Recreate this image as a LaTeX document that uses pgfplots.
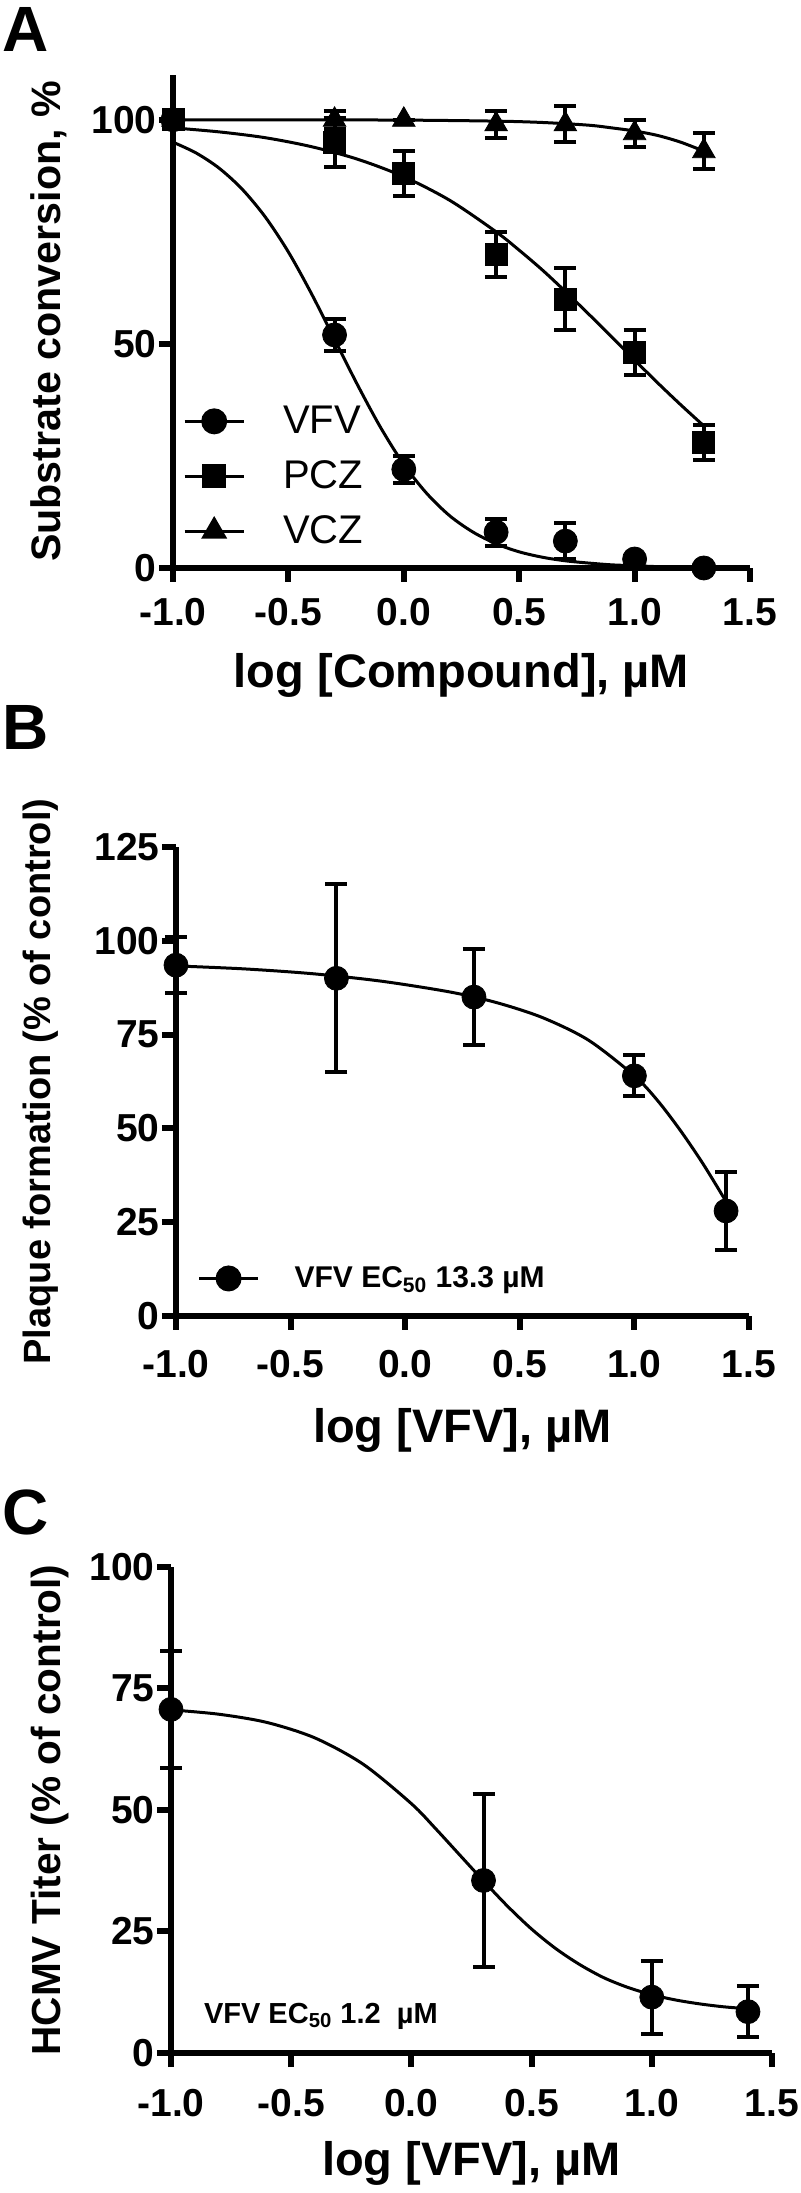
\documentclass[border=0pt]{standalone}
\usepackage{fontspec}
\setmainfont{Liberation Sans}
\usepackage{pgfplots}
\pgfplotsset{compat=1.18}

\pgfplotsset{
  gp/.style={
    scale only axis,
    anchor=south west,
    axis lines*=left,
    axis line style={line width=3pt},
    tick align=outside,
    major tick length=7pt,
    tick style={line width=3pt, black},
    minor tick num=0,
    xmin=-1, xmax=1.5, ymin=0,
    xtick={-1,-0.5,0,0.5,1,1.5},
    xticklabels={-1.0,-0.5,0.0,0.5,1.0,1.5},
    tick label style={font=\bfseries\fontsize{19.5}{23}\selectfont, inner sep=1pt},
    label style={font=\bfseries\fontsize{23.5}{27}\selectfont},
    xlabel style={at={(axis description cs:0.5,0)}, anchor=center},
    clip=false,
  },
  ebar/.style={
    only marks, black,
    error bars/.cd, y dir=both, y explicit,
    error bar style={line width=2pt, black},
    error mark options={rotate=90, line width=2pt, mark size=5.5pt, black},
  },
  fit/.style={black, line width=1.5pt, smooth, no marks, forget plot},
}

\begin{document}
\begin{tikzpicture}
\path[use as bounding box, fill=white] (0,0) rectangle (400pt,1096.5pt);

% ---------------- Panel A ----------------
\node[font=\bfseries\fontsize{32}{36}\selectfont, anchor=center] at (13pt,1081.5pt) {A};
\begin{axis}[gp,
  at={(86.5pt,812.5pt)},
  width=288.5pt, height=246.5pt,
  ymax=110,
  ytick={0,50,100}, yticklabels={0,50,100},
  xticklabel style={yshift=-7pt},
  xlabel={log [Compound], µM},
  xlabel style={yshift=-53.5pt},
  ylabel={Substrate conversion, \%},
  ylabel style={at={(axis description cs:-0.215,0.5)}, anchor=center, font=\bfseries\fontsize{20.6}{24}\selectfont},
  legend style={at={(axis description cs:0.017,0.186)}, anchor=west, draw=none, fill=none,
    font=\fontsize{20}{24}\selectfont, row sep=8pt, inner sep=0pt,
    /tikz/every odd column/.append style={column sep=17pt}},
  legend cell align=left,
  legend image code/.code={%
    \draw[line width=1.5pt, black] (0pt,0pt) -- (29.5pt,0pt);
    \draw[#1, line width=1pt] plot coordinates {(14.75pt,0pt)};},
]
% fitted curves
\addplot[fit] coordinates {(-1.0,95.0) (-0.9,92.6) (-0.8,89.2) (-0.7,84.5) (-0.6,78.3) (-0.5,70.5) (-0.4,61.2) (-0.3,51.0) (-0.2,40.8) (-0.1,31.3) (0.0,23.1) (0.1,16.6) (0.2,11.6) (0.3,8.0) (0.4,5.4) (0.5,3.6) (0.6,2.4) (0.7,1.6) (0.8,1.1) (0.9,0.7) (1.0,0.5) (1.1,0.3) (1.2,0.2) (1.3,0.13)};
\addplot[fit] coordinates {(-1.0,98.2) (-0.8,97.3) (-0.6,96.0) (-0.4,94.0) (-0.2,91.2) (0.0,87.3) (0.2,82.0) (0.4,75.0) (0.5,70.9) (0.6,66.5) (0.7,61.7) (0.8,56.7) (0.9,51.6) (1.0,46.4) (1.1,41.3) (1.2,36.4) (1.3,31.7)};
\addplot[fit] coordinates {(-1.0,100.0) (-0.5,99.98) (0.0,99.93) (0.4,99.7) (0.6,99.4) (0.8,98.8) (0.9,98.2) (1.0,97.5) (1.1,96.5) (1.2,95.0) (1.3,93.0)};
% data
\addplot[mark=*, mark size=6pt, ebar] coordinates {(-1.0,100) +- (0,0) (-0.3,52) +- (0,3.5) (0.0,22) +- (0,3) (0.4,8) +- (0,3) (0.7,6) +- (0,4) (1.0,2) +- (0,0) (1.3,0) +- (0,0)};
\addplot[mark=square*, mark size=5.5pt, ebar] coordinates {(-1.0,100) +- (0,0) (-0.3,95) +- (0,5.5) (0.0,88) +- (0,5) (0.4,70) +- (0,5) (0.7,60) +- (0,7) (1.0,48) +- (0,5) (1.3,28) +- (0,4)};
\addplot[mark=triangle*, mark size=6.5pt, ebar] coordinates {(-1.0,100) +- (0,0) (-0.3,100) +- (0,2) (0.0,100) +- (0,0) (0.4,99) +- (0,3) (0.7,99) +- (0,4) (1.0,97) +- (0,3) (1.3,93) +- (0,4)};
\legend{VFV,PCZ,VCZ}
\end{axis}

% ---------------- Panel B ----------------
\node[font=\bfseries\fontsize{32}{36}\selectfont, anchor=center] at (13pt,732.5pt) {B};
\begin{axis}[gp,
  at={(88pt,438.5pt)},
  width=286.5pt, height=234.5pt,
  ymax=125,
  ytick={0,25,50,75,100,125}, yticklabels={0,25,50,75,100,125},
  xticklabel style={yshift=-9pt},
  xlabel={log [VFV], µM},
  xlabel style={yshift=-57pt},
  ylabel={Plaque formation (\% of control)},
  ylabel style={at={(axis description cs:-0.237,0.5)}, anchor=center, font=\bfseries\fontsize{19}{23}\selectfont},
  legend style={at={(axis description cs:0.037,0.08)}, anchor=west, draw=none, fill=none,
    font=\bfseries\fontsize{15}{18}\selectfont, inner sep=0pt,
    /tikz/every odd column/.append style={column sep=15.5pt}},
  legend image code/.code={%
    \draw[line width=1.5pt, black] (0pt,0pt) -- (29.5pt,0pt);
    \draw[#1, line width=1pt] plot coordinates {(14.75pt,0pt)};},
]
\addplot[fit] coordinates {(-1.0,93.3) (-0.7,92.5) (-0.4,91.2) (-0.1,89.2) (0.2,86.3) (0.4,83.5) (0.6,79.5) (0.8,73.5) (1.0,64.0) (1.1,57.5) (1.2,49.5) (1.3,40.5) (1.4,30.5)};
\addplot[mark=*, mark size=6pt, ebar] coordinates {(-1.0,93.5) +- (0,7.4) (-0.3,90) +- (0,25) (0.3,85) +- (0,12.7) (1.0,64) +- (0,5.5) (1.4,28) +- (0,10.5)};
\legend{VFV EC\textsubscript{50} 13.3 µM}
\end{axis}

% ---------------- Panel C ----------------
\node[font=\bfseries\fontsize{32}{36}\selectfont, anchor=center] at (13pt,340.5pt) {C};
\begin{axis}[gp,
  at={(85.5pt,70pt)},
  width=300.5pt, height=243pt,
  ymax=100,
  ytick={0,25,50,75,100}, yticklabels={0,25,50,75,100},
  xticklabel style={yshift=-10pt},
  xlabel={log [VFV], µM},
  xlabel style={yshift=-55pt},
  ylabel={HCMV Titer (\% of control)},
  ylabel style={at={(axis description cs:-0.202,0.5)}, anchor=center, font=\bfseries\fontsize{20.3}{24}\selectfont},
]
\addplot[fit] coordinates {(-1.0,70.6) (-0.8,69.7) (-0.6,68.0) (-0.4,64.8) (-0.2,59.4) (0.0,51.3) (0.1,46.2) (0.2,40.8) (0.3,35.4) (0.4,30.2) (0.5,25.5) (0.6,21.5) (0.7,18.2) (0.8,15.5) (0.9,13.5) (1.0,12.0) (1.1,10.9) (1.2,10.1) (1.3,9.5) (1.4,9.1)};
\addplot[mark=*, mark size=6pt, forget plot, ebar] coordinates {(-1.0,70.7) +- (0,12) (0.3,35.5) +- (0,17.8) (1.0,11.5) +- (0,7.5) (1.4,8.5) +- (0,5.2)};
\node[anchor=west, font=\bfseries\fontsize{14.5}{17}\selectfont] at (axis cs:-0.892,7.5) {VFV EC\textsubscript{50} 1.2~ µM};
\end{axis}
\end{tikzpicture}
\end{document}
